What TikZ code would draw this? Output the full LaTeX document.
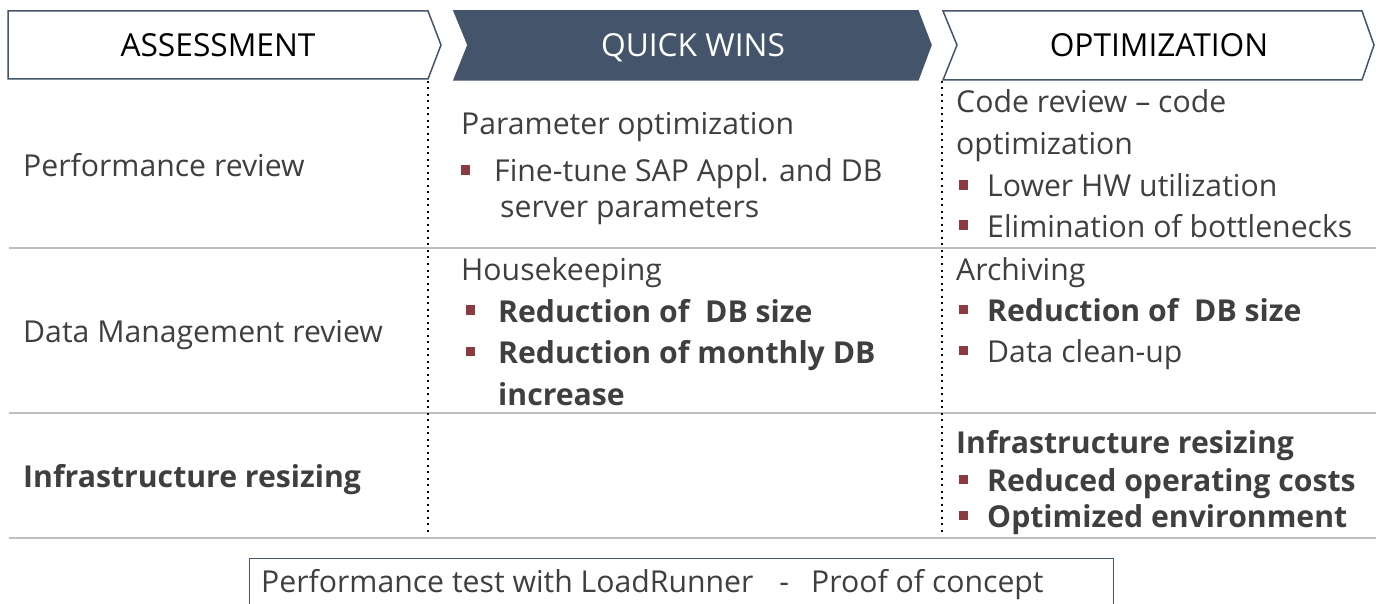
\documentclass[tikz,border=0pt]{standalone}
\usepackage{fontspec}
\setmainfont{Open Sans}
\usepackage{xcolor}
\definecolor{slate}{HTML}{44546A}
\definecolor{bodygray}{HTML}{3F3F3F}
\definecolor{bulletred}{HTML}{8C3A40}
\definecolor{rulegray}{HTML}{BFBFBF}
\newcommand{\bul}[1][19pt]{\llap{\textcolor{bulletred}{\rule[7pt]{9.5pt}{9.5pt}}\hspace{#1}}}
\tikzset{
  phase/.style={draw=slate, line width=1.5pt, line join=miter},
  phasetext/.style={anchor=base, inner sep=0pt, font=\fontsize{31.7}{38}\selectfont},
  cell/.style={anchor=base west, inner sep=0pt, text=bodygray, font=\fontsize{30.2}{36}\selectfont},
  cellbold/.style={cell, font=\fontsize{30.2}{36}\selectfont\bfseries},
  rowrule/.style={draw=rulegray, line width=2pt},
  colrule/.style={line width=2pt, dash pattern=on 2pt off 4.5pt},
  testbox/.style={draw=slate, line width=1pt, anchor=north west, inner sep=0pt, minimum width=864pt, minimum height=70pt}
}
\begin{document}
\begin{tikzpicture}[x=1pt, y=-1pt]
  \useasboundingbox (0,0) rectangle (1379,604);
  % Phase chevrons
  \draw[phase, fill=white] (8,11) -- (428,11) -- (441,45) -- (428,79) -- (8,79) -- cycle;
  \draw[phase, fill=slate] (454,11) -- (918,11) -- (931,45) -- (918,80) -- (454,80) -- (468,45) -- cycle;
  \draw[phase, fill=white] (943,11) -- (1362,11) -- (1374,45) -- (1362,80) -- (943,80) -- (957,45) -- cycle;
  \node[phasetext]             (assess) at (218,57)  {ASSESSMENT};
  \node[phasetext, text=white] (quick)  at (693,57)  {QUICK WINS};
  \node[phasetext]             (optim)  at (1159,57) {OPTIMIZATION};

  % Grid rules
  \foreach \y/\n in {248/a, 413/b, 538/c} {
    \coordinate (rule\n w) at (9,\y);
    \coordinate (rule\n e) at (1376,\y);
    \draw[rowrule] (rule\n w) -- (rule\n e);
  }
  \foreach \x/\n in {428/a, 942/b} {
    \coordinate (col\n top) at (\x,81);
    \coordinate (col\n bot) at (\x,534);
    \draw[colrule] (col\n top) -- (col\n bot);
  }

  % Assessment column
  \node[cell]     (perfrev)  at (23,177) {Performance review};
  \node[cell]     (datarev)  at (23,342) {Data Management review};
  \node[cellbold] (infrarev) at (23,487) {Infrastructure resizing};

  % Quick wins column
  \node[cell]     (paramopt)  at (461,135) {Parameter optimization};
  \node[cell]     (finetune)  at (494,182) {\bul[24pt]Fine-tune SAP Appl. and DB};
  \node[cell]     (serverpar) at (500,218) {server parameters};
  \node[cell]     (housekeep) at (461,280) {Housekeeping};
  \node[cellbold] (dbsizeqw)  at (498,322) {\bul[23pt]Reduction of \ DB size};
  \node[cellbold] (dbmonth)   at (498,363) {\bul[23pt]Reduction of monthly DB};
  \node[cellbold] (increase)  at (498,405) {increase};

  % Optimization column
  \node[cell]     (codereview) at (956,113) {Code review -- code};
  \node[cell]     (codeopt)    at (956,155) {optimization};
  \node[cell]     (lowerhw)    at (987,197) {\bul Lower HW utilization};
  \node[cell]     (bottleneck) at (987,237) {\bul Elimination of bottlenecks};
  \node[cell]     (archiving)  at (956,280) {Archiving};
  \node[cellbold] (dbsizeop)   at (987,321) {\bul Reduction of \ DB size};
  \node[cell]     (cleanup)    at (987,362) {\bul Data clean-up};
  \node[cellbold] (infraop)    at (956,453) {Infrastructure resizing};
  \node[cellbold] (opcosts)    at (987,491) {\bul Reduced operating costs};
  \node[cellbold] (optenv)     at (987,527) {\bul Optimized environment};

  % Proof of concept box
  \node[testbox] (poc) at (249,558) {};
  \node[cell] (poctext) at (261,592)
    {Performance test with LoadRunner\hspace{26pt}-\hspace{22pt}Proof of concept};
\end{tikzpicture}
\end{document}
